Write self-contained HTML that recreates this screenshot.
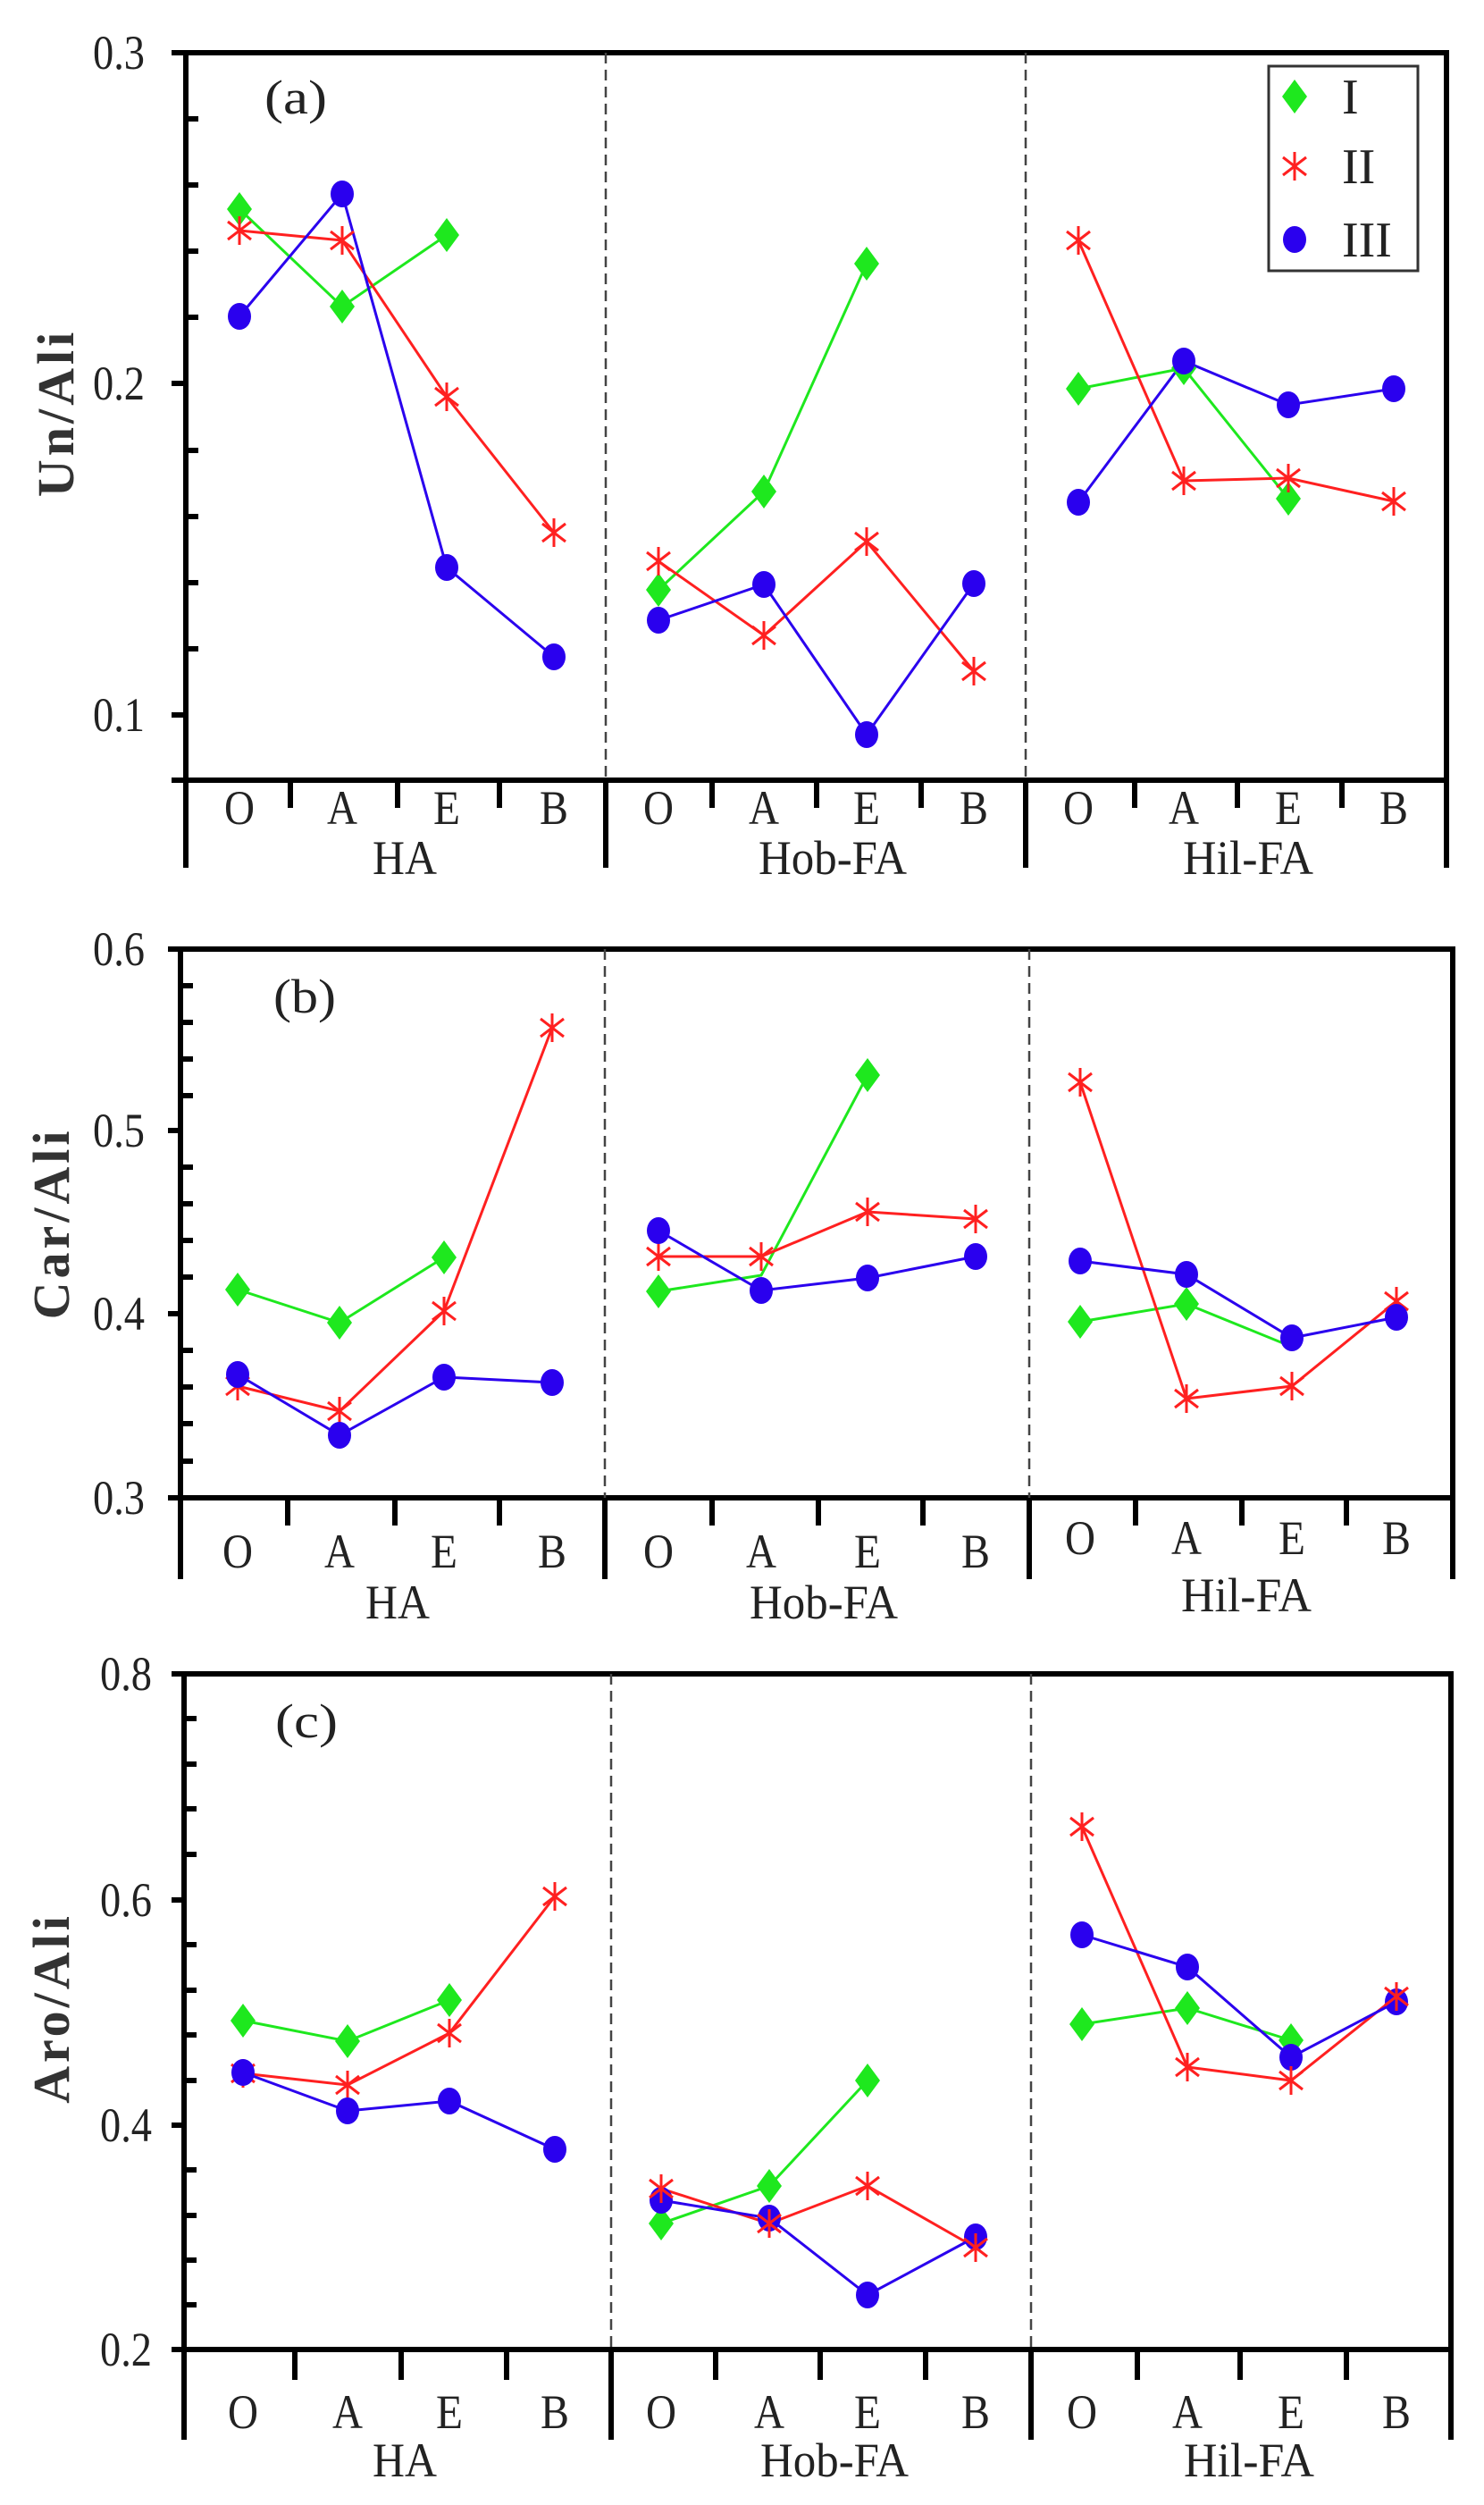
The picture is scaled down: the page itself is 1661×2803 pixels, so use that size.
<!DOCTYPE html>
<html><head><meta charset="utf-8"><style>body{margin:0;background:#fff}svg{display:block}</style></head><body>
<svg width="1661" height="2803" viewBox="0 0 1661 2803" xmlns="http://www.w3.org/2000/svg" font-family="'Liberation Serif', serif" fill="#222">
<defs>
<g id="d"><polygon points="0,-19 14,0 0,19 -14,0" fill="#1ee81e"/></g>
<g id="s" stroke="#ff2020" stroke-width="3" fill="none"><line x1="0" y1="-16" x2="0" y2="16"/><line x1="-13" y1="-10" x2="13" y2="10"/><line x1="-13" y1="10" x2="13" y2="-10"/></g>
<g id="c"><ellipse cx="0" cy="0" rx="13" ry="15" fill="#2a00ee"/></g>
</defs>

<!-- ================= PANEL A ================= -->
<g stroke="#000" fill="none">
<rect x="208" y="59" width="1411" height="814" stroke-width="6"/>
<line x1="678" y1="59" x2="678" y2="873" stroke="#444" stroke-width="2.5" stroke-dasharray="12,7"/>
<line x1="1148" y1="59" x2="1148" y2="873" stroke="#444" stroke-width="2.5" stroke-dasharray="12,7"/>
<g stroke-width="6"><line x1="208" y1="873" x2="208" y2="971"/><line x1="678" y1="873" x2="678" y2="971"/><line x1="1148" y1="873" x2="1148" y2="971"/><line x1="1619" y1="873" x2="1619" y2="971"/>
<line x1="325" y1="873" x2="325" y2="904"/><line x1="445" y1="873" x2="445" y2="904"/><line x1="559" y1="873" x2="559" y2="904"/>
<line x1="797" y1="873" x2="797" y2="904"/><line x1="914" y1="873" x2="914" y2="904"/><line x1="1031" y1="873" x2="1031" y2="904"/>
<line x1="1270" y1="873" x2="1270" y2="904"/><line x1="1385" y1="873" x2="1385" y2="904"/><line x1="1502" y1="873" x2="1502" y2="904"/>
<line x1="192" y1="59" x2="208" y2="59"/><line x1="192" y1="429" x2="208" y2="429"/><line x1="192" y1="800" x2="208" y2="800"/><line x1="192" y1="873" x2="208" y2="873"/>
<line x1="208" y1="133" x2="222" y2="133"/><line x1="208" y1="207" x2="222" y2="207"/><line x1="208" y1="281" x2="222" y2="281"/><line x1="208" y1="355" x2="222" y2="355"/><line x1="208" y1="504" x2="222" y2="504"/><line x1="208" y1="578" x2="222" y2="578"/><line x1="208" y1="652" x2="222" y2="652"/><line x1="208" y1="726" x2="222" y2="726"/></g>
</g>
<g font-size="54" text-anchor="end">
<text x="162" y="77" textLength="58" lengthAdjust="spacingAndGlyphs">0.3</text>
<text x="162" y="447" textLength="58" lengthAdjust="spacingAndGlyphs">0.2</text>
<text x="162" y="818" textLength="58" lengthAdjust="spacingAndGlyphs">0.1</text>
</g>
<g font-size="54" text-anchor="middle">
<text x="268" y="922" textLength="34" lengthAdjust="spacingAndGlyphs">O</text><text x="383" y="922" textLength="34" lengthAdjust="spacingAndGlyphs">A</text><text x="500" y="922" textLength="30" lengthAdjust="spacingAndGlyphs">E</text><text x="620" y="922" textLength="32" lengthAdjust="spacingAndGlyphs">B</text>
<text x="737" y="922" textLength="34" lengthAdjust="spacingAndGlyphs">O</text><text x="855" y="922" textLength="34" lengthAdjust="spacingAndGlyphs">A</text><text x="970" y="922" textLength="30" lengthAdjust="spacingAndGlyphs">E</text><text x="1090" y="922" textLength="32" lengthAdjust="spacingAndGlyphs">B</text>
<text x="1207" y="922" textLength="34" lengthAdjust="spacingAndGlyphs">O</text><text x="1325" y="922" textLength="34" lengthAdjust="spacingAndGlyphs">A</text><text x="1442" y="922" textLength="30" lengthAdjust="spacingAndGlyphs">E</text><text x="1560" y="922" textLength="32" lengthAdjust="spacingAndGlyphs">B</text>
<text x="453" y="978" textLength="72" lengthAdjust="spacingAndGlyphs">HA</text>
<text x="932" y="978" textLength="166" lengthAdjust="spacingAndGlyphs">Hob-FA</text>
<text x="1397" y="978" textLength="146" lengthAdjust="spacingAndGlyphs">Hil-FA</text>
<text x="331" y="127" textLength="70" lengthAdjust="spacingAndGlyphs">(a)</text>
</g>
<text transform="translate(82,462) rotate(-90)" font-size="58" font-weight="bold" text-anchor="middle" fill="#333" letter-spacing="4">Un/Ali</text>
<!-- legend -->
<rect x="1420" y="74" width="167" height="229" fill="none" stroke="#333" stroke-width="3"/>
<use href="#d" x="1449" y="108"/><use href="#s" x="1449" y="186"/><use href="#c" x="1449" y="268"/>
<g font-size="56"><text x="1502" y="127">I</text><text x="1502" y="205">II</text><text x="1502" y="287">III</text></g>
<!-- series a -->
<g fill="none" stroke-width="3">
<polyline stroke="#1ee81e" points="268,234 383,343 500,263"/>
<polyline stroke="#ff2020" points="268,258 383,269 500,444 620,596"/>
<polyline stroke="#2a00ee" points="268,354 383,217 500,635 620,735"/>
<polyline stroke="#1ee81e" points="737,660 855,550 970,295"/>
<polyline stroke="#ff2020" points="737,628 855,711 970,606 1090,751"/>
<polyline stroke="#2a00ee" points="737,694 855,654 970,822 1090,653"/>
<polyline stroke="#1ee81e" points="1207,435 1325,412 1442,558"/>
<polyline stroke="#ff2020" points="1207,269 1325,538 1442,535 1560,561"/>
<polyline stroke="#2a00ee" points="1207,562 1325,404 1442,453 1560,435"/>
</g>
<use href="#d" x="268" y="234"/><use href="#d" x="383" y="343"/><use href="#d" x="500" y="263"/>
<use href="#s" x="268" y="258"/><use href="#s" x="383" y="269"/><use href="#s" x="500" y="444"/><use href="#s" x="620" y="596"/>
<use href="#c" x="268" y="354"/><use href="#c" x="383" y="217"/><use href="#c" x="500" y="635"/><use href="#c" x="620" y="735"/>
<use href="#d" x="737" y="660"/><use href="#d" x="855" y="550"/><use href="#d" x="970" y="295"/>
<use href="#s" x="737" y="628"/><use href="#s" x="855" y="711"/><use href="#s" x="970" y="606"/><use href="#s" x="1090" y="751"/>
<use href="#c" x="737" y="694"/><use href="#c" x="855" y="654"/><use href="#c" x="970" y="822"/><use href="#c" x="1090" y="653"/>
<use href="#d" x="1207" y="435"/><use href="#d" x="1325" y="412"/><use href="#d" x="1442" y="558"/>
<use href="#s" x="1207" y="269"/><use href="#s" x="1325" y="538"/><use href="#s" x="1442" y="535"/><use href="#s" x="1560" y="561"/>
<use href="#c" x="1207" y="562"/><use href="#c" x="1325" y="404"/><use href="#c" x="1442" y="453"/><use href="#c" x="1560" y="435"/>

<!-- ================= PANEL B ================= -->
<g stroke="#000" fill="none">
<rect x="202" y="1062" width="1424" height="614" stroke-width="6"/>
<line x1="677" y1="1062" x2="677" y2="1676" stroke="#444" stroke-width="2.5" stroke-dasharray="12,7"/>
<line x1="1152" y1="1062" x2="1152" y2="1676" stroke="#444" stroke-width="2.5" stroke-dasharray="12,7"/>
<g stroke-width="6"><line x1="202" y1="1676" x2="202" y2="1767"/><line x1="677" y1="1676" x2="677" y2="1767"/><line x1="1152" y1="1676" x2="1152" y2="1767"/><line x1="1626" y1="1676" x2="1626" y2="1767"/>
<line x1="322" y1="1676" x2="322" y2="1707"/><line x1="442" y1="1676" x2="442" y2="1707"/><line x1="559" y1="1676" x2="559" y2="1707"/>
<line x1="797" y1="1676" x2="797" y2="1707"/><line x1="916" y1="1676" x2="916" y2="1707"/><line x1="1033" y1="1676" x2="1033" y2="1707"/>
<line x1="1271" y1="1676" x2="1271" y2="1707"/><line x1="1390" y1="1676" x2="1390" y2="1707"/><line x1="1507" y1="1676" x2="1507" y2="1707"/>
<line x1="188" y1="1062" x2="202" y2="1062"/><line x1="188" y1="1265" x2="202" y2="1265"/><line x1="188" y1="1470" x2="202" y2="1470"/><line x1="188" y1="1676" x2="202" y2="1676"/>
<line x1="202" y1="1103" x2="216" y2="1103"/><line x1="202" y1="1144" x2="216" y2="1144"/><line x1="202" y1="1185" x2="216" y2="1185"/><line x1="202" y1="1226" x2="216" y2="1226"/>
<line x1="202" y1="1306" x2="216" y2="1306"/><line x1="202" y1="1347" x2="216" y2="1347"/><line x1="202" y1="1388" x2="216" y2="1388"/><line x1="202" y1="1429" x2="216" y2="1429"/>
<line x1="202" y1="1511" x2="216" y2="1511"/><line x1="202" y1="1552" x2="216" y2="1552"/><line x1="202" y1="1593" x2="216" y2="1593"/><line x1="202" y1="1635" x2="216" y2="1635"/></g>
</g>
<g font-size="54" text-anchor="end">
<text x="162" y="1080" textLength="58" lengthAdjust="spacingAndGlyphs">0.6</text>
<text x="162" y="1283" textLength="58" lengthAdjust="spacingAndGlyphs">0.5</text>
<text x="162" y="1488" textLength="58" lengthAdjust="spacingAndGlyphs">0.4</text>
<text x="162" y="1694" textLength="58" lengthAdjust="spacingAndGlyphs">0.3</text>
</g>
<g font-size="54" text-anchor="middle">
<text x="266" y="1754" textLength="34" lengthAdjust="spacingAndGlyphs">O</text><text x="380" y="1754" textLength="34" lengthAdjust="spacingAndGlyphs">A</text><text x="497" y="1754" textLength="30" lengthAdjust="spacingAndGlyphs">E</text><text x="618" y="1754" textLength="32" lengthAdjust="spacingAndGlyphs">B</text>
<text x="737" y="1754" textLength="34" lengthAdjust="spacingAndGlyphs">O</text><text x="852" y="1754" textLength="34" lengthAdjust="spacingAndGlyphs">A</text><text x="971" y="1754" textLength="30" lengthAdjust="spacingAndGlyphs">E</text><text x="1092" y="1754" textLength="32" lengthAdjust="spacingAndGlyphs">B</text>
<text x="1209" y="1739" textLength="34" lengthAdjust="spacingAndGlyphs">O</text><text x="1328" y="1739" textLength="34" lengthAdjust="spacingAndGlyphs">A</text><text x="1446" y="1739" textLength="30" lengthAdjust="spacingAndGlyphs">E</text><text x="1563" y="1739" textLength="32" lengthAdjust="spacingAndGlyphs">B</text>
<text x="445" y="1811" textLength="72" lengthAdjust="spacingAndGlyphs">HA</text>
<text x="922" y="1811" textLength="166" lengthAdjust="spacingAndGlyphs">Hob-FA</text>
<text x="1395" y="1803" textLength="146" lengthAdjust="spacingAndGlyphs">Hil-FA</text>
<text x="341" y="1133" textLength="70" lengthAdjust="spacingAndGlyphs">(b)</text>
</g>
<text transform="translate(77,1369) rotate(-90)" font-size="58" font-weight="bold" text-anchor="middle" fill="#333" letter-spacing="4">Car/Ali</text>
<g fill="none" stroke-width="3">
<polyline stroke="#1ee81e" points="266,1443 380,1480 497,1407"/>
<polyline stroke="#ff2020" points="266,1551 380,1579 497,1467 618,1150"/>
<polyline stroke="#2a00ee" points="266,1538 380,1606 497,1541 618,1547"/>
<polyline stroke="#1ee81e" points="737,1445 852,1427 971,1203"/>
<polyline stroke="#ff2020" points="737,1406 852,1406 971,1356 1092,1364"/>
<polyline stroke="#2a00ee" points="737,1377 852,1444 971,1430 1092,1406"/>
<polyline stroke="#1ee81e" points="1209,1479 1328,1459 1446,1507"/>
<polyline stroke="#ff2020" points="1209,1211 1328,1565 1446,1551 1563,1456"/>
<polyline stroke="#2a00ee" points="1209,1411 1328,1426 1446,1497 1563,1474"/>
</g>
<use href="#d" x="266" y="1443"/><use href="#d" x="380" y="1480"/><use href="#d" x="497" y="1407"/>
<use href="#s" x="266" y="1551"/><use href="#s" x="380" y="1579"/><use href="#s" x="497" y="1467"/><use href="#s" x="618" y="1150"/>
<use href="#c" x="266" y="1538"/><use href="#c" x="380" y="1606"/><use href="#c" x="497" y="1541"/><use href="#c" x="618" y="1547"/>
<use href="#d" x="737" y="1445"/><use href="#d" x="971" y="1203"/>
<use href="#s" x="737" y="1406"/><use href="#s" x="852" y="1406"/><use href="#s" x="971" y="1356"/><use href="#s" x="1092" y="1364"/>
<use href="#c" x="737" y="1377"/><use href="#c" x="852" y="1444"/><use href="#c" x="971" y="1430"/><use href="#c" x="1092" y="1406"/>
<use href="#d" x="1209" y="1479"/><use href="#d" x="1328" y="1459"/>
<use href="#s" x="1209" y="1211"/><use href="#s" x="1328" y="1565"/><use href="#s" x="1446" y="1551"/><use href="#s" x="1563" y="1456"/>
<use href="#c" x="1209" y="1411"/><use href="#c" x="1328" y="1426"/><use href="#c" x="1446" y="1497"/><use href="#c" x="1563" y="1474"/>

<!-- ================= PANEL C ================= -->
<g stroke="#000" fill="none">
<rect x="206" y="1873" width="1418" height="756" stroke-width="6"/>
<line x1="684" y1="1873" x2="684" y2="2629" stroke="#444" stroke-width="2.5" stroke-dasharray="12,7"/>
<line x1="1154" y1="1873" x2="1154" y2="2629" stroke="#444" stroke-width="2.5" stroke-dasharray="12,7"/>
<g stroke-width="6"><line x1="206" y1="2629" x2="206" y2="2730"/><line x1="684" y1="2629" x2="684" y2="2730"/><line x1="1154" y1="2629" x2="1154" y2="2730"/><line x1="1624" y1="2629" x2="1624" y2="2730"/>
<line x1="330" y1="2629" x2="330" y2="2663"/><line x1="449" y1="2629" x2="449" y2="2663"/><line x1="567" y1="2629" x2="567" y2="2663"/>
<line x1="801" y1="2629" x2="801" y2="2663"/><line x1="918" y1="2629" x2="918" y2="2663"/><line x1="1036" y1="2629" x2="1036" y2="2663"/>
<line x1="1273" y1="2629" x2="1273" y2="2663"/><line x1="1388" y1="2629" x2="1388" y2="2663"/><line x1="1507" y1="2629" x2="1507" y2="2663"/>
<line x1="192" y1="1873" x2="206" y2="1873"/><line x1="192" y1="2126" x2="206" y2="2126"/><line x1="192" y1="2378" x2="206" y2="2378"/><line x1="192" y1="2629" x2="206" y2="2629"/>
<line x1="206" y1="1923" x2="220" y2="1923"/><line x1="206" y1="1974" x2="220" y2="1974"/><line x1="206" y1="2024" x2="220" y2="2024"/><line x1="206" y1="2075" x2="220" y2="2075"/>
<line x1="206" y1="2176" x2="220" y2="2176"/><line x1="206" y1="2227" x2="220" y2="2227"/><line x1="206" y1="2277" x2="220" y2="2277"/><line x1="206" y1="2328" x2="220" y2="2328"/>
<line x1="206" y1="2428" x2="220" y2="2428"/><line x1="206" y1="2479" x2="220" y2="2479"/><line x1="206" y1="2529" x2="220" y2="2529"/><line x1="206" y1="2579" x2="220" y2="2579"/></g>
</g>
<g font-size="54" text-anchor="end">
<text x="170" y="1891" textLength="58" lengthAdjust="spacingAndGlyphs">0.8</text>
<text x="170" y="2144" textLength="58" lengthAdjust="spacingAndGlyphs">0.6</text>
<text x="170" y="2396" textLength="58" lengthAdjust="spacingAndGlyphs">0.4</text>
<text x="170" y="2647" textLength="58" lengthAdjust="spacingAndGlyphs">0.2</text>
</g>
<g font-size="54" text-anchor="middle">
<text x="272" y="2717" textLength="34" lengthAdjust="spacingAndGlyphs">O</text><text x="389" y="2717" textLength="34" lengthAdjust="spacingAndGlyphs">A</text><text x="503" y="2717" textLength="30" lengthAdjust="spacingAndGlyphs">E</text><text x="621" y="2717" textLength="32" lengthAdjust="spacingAndGlyphs">B</text>
<text x="740" y="2717" textLength="34" lengthAdjust="spacingAndGlyphs">O</text><text x="861" y="2717" textLength="34" lengthAdjust="spacingAndGlyphs">A</text><text x="971" y="2717" textLength="30" lengthAdjust="spacingAndGlyphs">E</text><text x="1092" y="2717" textLength="32" lengthAdjust="spacingAndGlyphs">B</text>
<text x="1211" y="2717" textLength="34" lengthAdjust="spacingAndGlyphs">O</text><text x="1329" y="2717" textLength="34" lengthAdjust="spacingAndGlyphs">A</text><text x="1445" y="2717" textLength="30" lengthAdjust="spacingAndGlyphs">E</text><text x="1563" y="2717" textLength="32" lengthAdjust="spacingAndGlyphs">B</text>
<text x="453" y="2771" textLength="72" lengthAdjust="spacingAndGlyphs">HA</text>
<text x="934" y="2771" textLength="166" lengthAdjust="spacingAndGlyphs">Hob-FA</text>
<text x="1398" y="2771" textLength="146" lengthAdjust="spacingAndGlyphs">Hil-FA</text>
<text x="343" y="1944" textLength="70" lengthAdjust="spacingAndGlyphs">(c)</text>
</g>
<text transform="translate(77,2247) rotate(-90)" font-size="58" font-weight="bold" text-anchor="middle" fill="#333" letter-spacing="4">Aro/Ali</text>
<g fill="none" stroke-width="3">
<polyline stroke="#1ee81e" points="272,2261 389,2284 503,2238"/>
<polyline stroke="#ff2020" points="272,2320 389,2333 503,2275 621,2122"/>
<polyline stroke="#2a00ee" points="272,2319 389,2362 503,2351 621,2405"/>
<polyline stroke="#1ee81e" points="740,2488 861,2446 971,2328"/>
<polyline stroke="#ff2020" points="740,2449 861,2488 971,2446 1092,2515"/>
<polyline stroke="#2a00ee" points="740,2462 861,2482 971,2568 1092,2503"/>
<polyline stroke="#1ee81e" points="1211,2265 1329,2247 1445,2283"/>
<polyline stroke="#ff2020" points="1211,2044 1329,2313 1445,2328 1563,2234"/>
<polyline stroke="#2a00ee" points="1211,2165 1329,2201 1445,2302 1563,2240"/>
</g>
<use href="#d" x="272" y="2261"/><use href="#d" x="389" y="2284"/><use href="#d" x="503" y="2238"/>
<use href="#s" x="272" y="2320"/><use href="#s" x="389" y="2333"/><use href="#s" x="503" y="2275"/><use href="#s" x="621" y="2122"/>
<use href="#c" x="272" y="2319"/><use href="#c" x="389" y="2362"/><use href="#c" x="503" y="2351"/><use href="#c" x="621" y="2405"/>
<use href="#d" x="740" y="2488"/><use href="#d" x="861" y="2446"/><use href="#d" x="971" y="2328"/>
<use href="#c" x="740" y="2462"/><use href="#c" x="861" y="2482"/><use href="#c" x="971" y="2568"/><use href="#c" x="1092" y="2503"/>
<use href="#s" x="740" y="2449"/><use href="#s" x="861" y="2488"/><use href="#s" x="971" y="2446"/><use href="#s" x="1092" y="2515"/>
<use href="#d" x="1211" y="2265"/><use href="#d" x="1329" y="2247"/><use href="#d" x="1445" y="2283"/>
<use href="#c" x="1211" y="2165"/><use href="#c" x="1329" y="2201"/><use href="#c" x="1445" y="2302"/><use href="#c" x="1563" y="2240"/>
<use href="#s" x="1211" y="2044"/><use href="#s" x="1329" y="2313"/><use href="#s" x="1445" y="2328"/><use href="#s" x="1563" y="2234"/>
</svg>
</body></html>
